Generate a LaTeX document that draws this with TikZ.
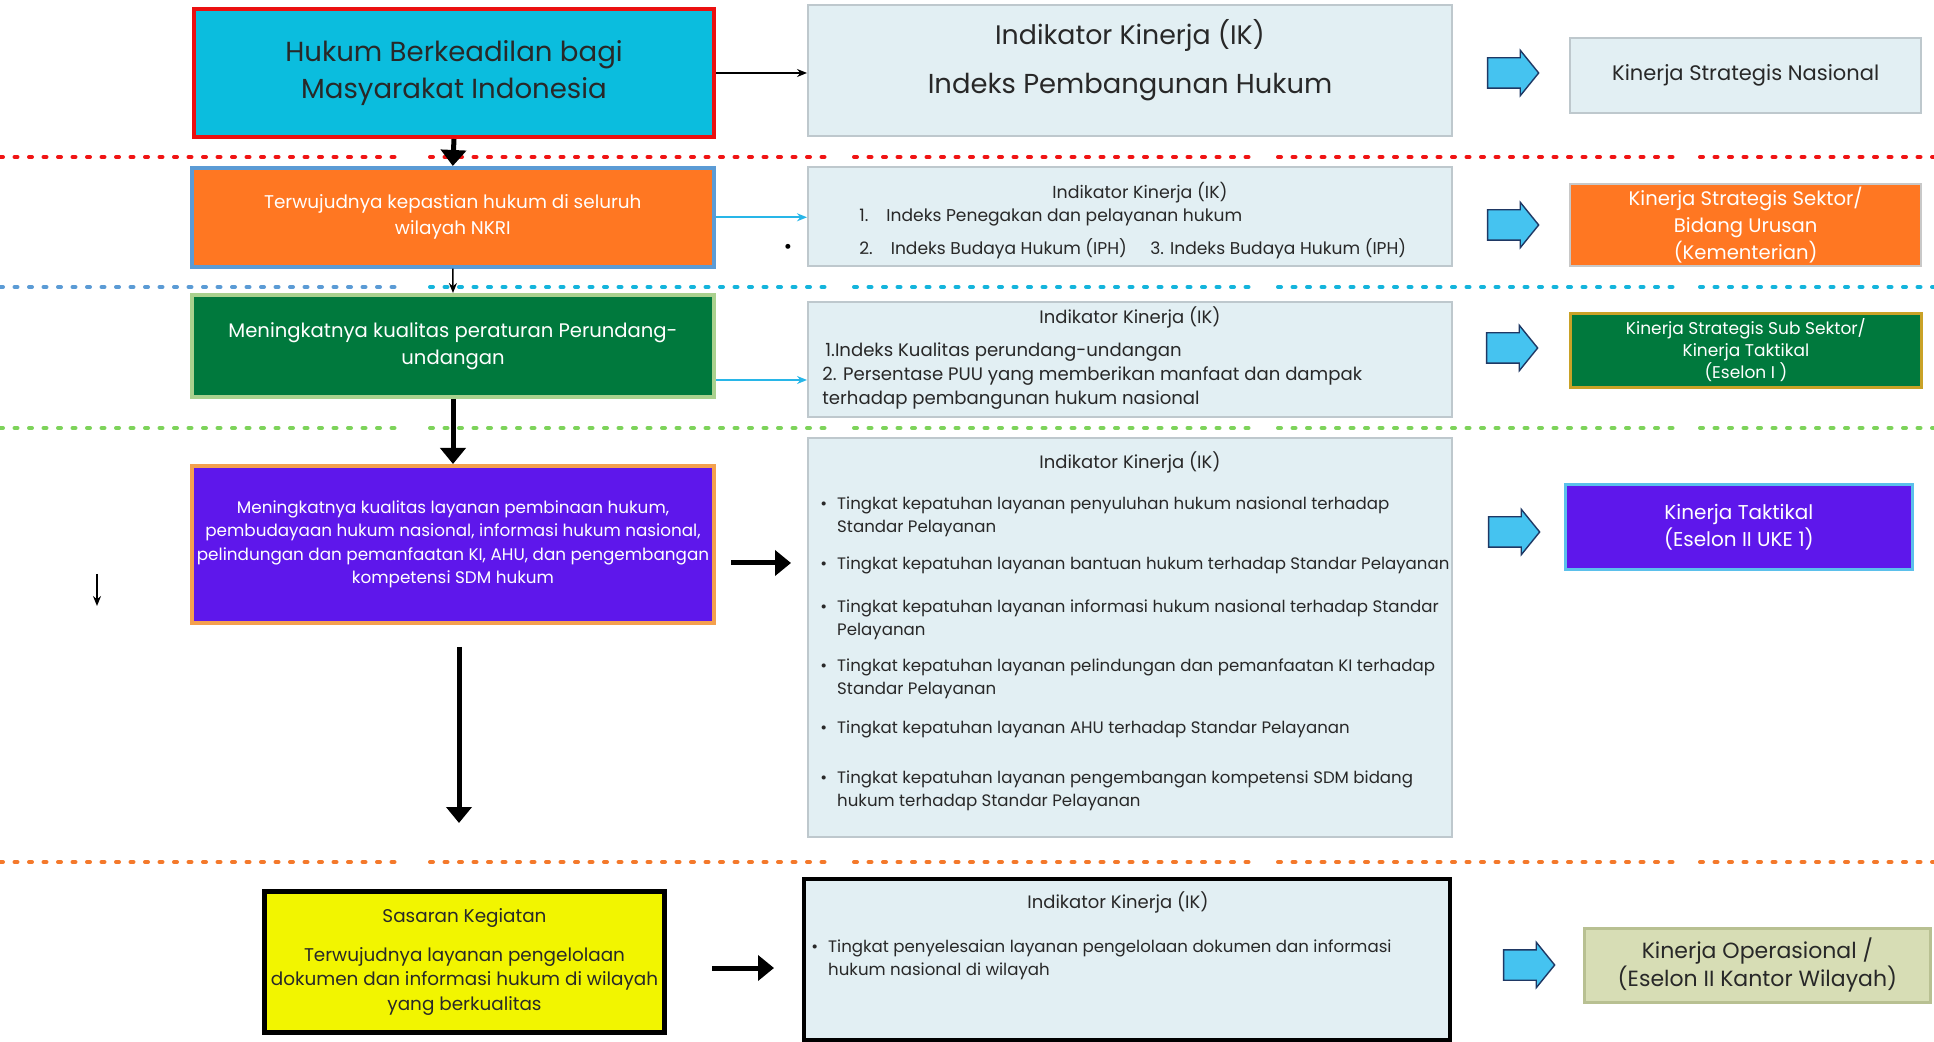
\documentclass[tikz,border=0pt]{standalone}
\usepackage{fontspec}
\setmainfont{Poppins}
\usetikzlibrary{positioning,calc,arrows.meta,shapes.arrows}

\definecolor{hukumcyan}{RGB}{11,189,222}
\definecolor{hukumred}{RGB}{235,16,16}
\definecolor{ikfill}{RGB}{226,239,243}
\definecolor{ikline}{RGB}{190,200,205}
\definecolor{oranye}{RGB}{255,119,34}
\definecolor{birubox}{RGB}{91,155,213}
\definecolor{hijau}{RGB}{0,121,61}
\definecolor{hijaumuda}{RGB}{169,209,142}
\definecolor{ungu}{RGB}{94,23,235}
\definecolor{oranyemuda}{RGB}{244,160,78}
\definecolor{birumuda}{RGB}{91,192,235}
\definecolor{emas}{RGB}{201,162,39}
\definecolor{abu}{RGB}{200,200,200}
\definecolor{kuning}{RGB}{242,245,0}
\definecolor{zaitun}{RGB}{215,221,181}
\definecolor{zaitunline}{RGB}{184,192,146}
\definecolor{panah}{RGB}{69,195,240}
\definecolor{panahline}{RGB}{31,56,100}
\definecolor{panahtosca}{RGB}{40,182,232}
\definecolor{teks}{RGB}{40,40,40}
\definecolor{garismerah}{RGB}{240,20,20}
\definecolor{garisbiru}{RGB}{91,155,213}
\definecolor{garistosca}{RGB}{20,180,220}
\definecolor{garishijau}{RGB}{125,211,90}
\definecolor{garisoranye}{RGB}{244,121,43}

\tikzset{
  wh/.style 2 args={minimum width=#1*0.5pt, minimum height=#2*0.5pt},
  box/.style={draw, rectangle, anchor=north west, inner sep=0pt, align=center},
  ikbox/.style={box, fill=ikfill, draw=ikline, line width=1.2pt},
  iktext/.style={text=teks, font=\fontsize{8.3}{11.5}\selectfont, inner sep=0pt, align=left},
  blockarrow/.style={single arrow, draw=panahline, fill=panah, line width=0.7pt,
    minimum height=25.5pt, minimum width=22pt, single arrow head extend=3.75pt,
    single arrow tip angle=102, inner xsep=0pt, inner ysep=7.25pt},
  dotline/.style={line width=2pt, dash pattern=on 1.5pt off 5.75pt, line cap=round},
  fatarrow/.style={line width=2.5pt, -{Triangle[length=8pt, width=12.5pt]}},
  thinarrow/.style={line width=0.7pt, -{Stealth[length=5pt, width=4pt]}},
  cyanarrow/.style={line width=0.9pt, panahtosca, -{Stealth[length=5pt, width=4pt]}},
}

\begin{document}
\begin{tikzpicture}[x=0.5pt, y=-0.5pt]
\useasboundingbox (0,0) rectangle (1934,1042);

% garis pemisah
\draw[dotline, garismerah] (0,157) -- (401,157) (430,157) -- (828,157) (854,157) -- (1249,157) (1278,157) -- (1674,157) (1700,157) -- (1934,157);
\draw[dotline, garisbiru] (0,287) -- (401,287);
\draw[dotline, garistosca] (430,287) -- (828,287) (854,287) -- (1249,287) (1278,287) -- (1674,287) (1700,287) -- (1934,287);
\draw[dotline, garishijau] (0,428) -- (401,428) (430,428) -- (828,428) (854,428) -- (1249,428) (1278,428) -- (1674,428) (1700,428) -- (1934,428);
\draw[dotline, garisoranye] (0,862) -- (401,862) (430,862) -- (828,862) (854,862) -- (1249,862) (1278,862) -- (1674,862) (1700,862) -- (1934,862);

% tingkat nasional
\node[box, wh={520}{128}, fill=hukumcyan, draw=hukumred, line width=2pt, text=teks, font=\fontsize{13.8}{18.5}\selectfont] (hukum) at (192,7) {Hukum Berkeadilan bagi\\Masyarakat Indonesia};
\node[ikbox, wh={644}{131}] (ik0) at (807,4) {};
\node[text=teks, font=\fontsize{13.4}{15}\selectfont] (ik0a) at (1130,35) {Indikator Kinerja (IK)};
\node[text=teks, font=\fontsize{13.7}{16}\selectfont] (ik0b) at (1130,87) {Indeks Pembangunan Hukum};
\node[blockarrow] (ba0) at (1507,73) {};
\node[box, wh={351}{75}, fill=ikfill, draw=ikline, line width=1.2pt, text=teks, font=\fontsize{10.5}{13}\selectfont] (nasional) at (1569,37) {Kinerja Strategis Nasional};

\draw[thinarrow] (hukum.east) -- (hukum.east -| ik0.west);

% tingkat kementerian
\node[box, wh={522}{99}, fill=oranye, draw=birubox, line width=1.8pt, text=white, font=\fontsize{9.2}{13}\selectfont] (kepastian) at (190,166) {Terwujudnya kepastian hukum di seluruh\\wilayah NKRI};
\node[ikbox, wh={644}{99}] (ik1) at (807,166) {};
\node[iktext, font=\fontsize{8.7}{11}\selectfont] (ik1a) at (1140,193) {Indikator Kinerja (IK)};
\node[iktext, anchor=west, font=\fontsize{8.55}{11}\selectfont] (ik1b) at (859,217) {1.\hspace{9pt}Indeks Penegakan dan pelayanan hukum};
\node[iktext, anchor=west, font=\fontsize{8.55}{11}\selectfont] (ik1c) at (859,249) {2.\hspace{9pt}Indeks Budaya Hukum (IPH)};
\node[iktext, anchor=west, font=\fontsize{8.55}{11}\selectfont] (ik1d) at (1150,249) {3. Indeks Budaya Hukum (IPH)};
\node[text=black, font=\fontsize{10}{11}\selectfont, inner sep=0pt] (titik) at (788,249) {\textbullet};
\node[blockarrow] (ba1) at (1507,225) {};
\node[box, wh={351}{82}, fill=oranye, draw=abu, line width=1.2pt, text=white, font=\fontsize{9.8}{13.5}\selectfont] (sektor) at (1569,183) {Kinerja Strategis Sektor/\\Bidang Urusan\\(Kementerian)};

\draw[fatarrow] (hukum.south) -- (kepastian.north);
\draw[cyanarrow] (kepastian.east) -- (kepastian.east -| ik1.west);

% tingkat eselon I
\node[box, wh={522}{102}, fill=hijau, draw=hijaumuda, line width=2pt, text=white, font=\fontsize{9.8}{13.5}\selectfont] (peraturan) at (190,293) {Meningkatnya kualitas peraturan Perundang-\\undangan};
\node[ikbox, wh={644}{115}] (ik2) at (807,301) {};
\node[iktext, font=\fontsize{9}{11}\selectfont] (ik2a) at (1130,317) {Indikator Kinerja (IK)};
\node[iktext, anchor=west, font=\fontsize{9.05}{12}\selectfont] (ik2b) at (822,376) {\hspace{1.5pt}1.Indeks Kualitas perundang-undangan\\2. Persentase PUU yang memberikan manfaat dan dampak\\terhadap pembangunan hukum nasional};
\node[blockarrow] (ba2) at (1506,348) {};
\node[box, wh={351}{74}, fill=hijau, draw=emas, line width=1.4pt, text=white, font=\fontsize{8.5}{11}\selectfont] (subsektor) at (1569,312) {Kinerja Strategis Sub Sektor/\\Kinerja Taktikal\\(Eselon I )};

\draw[thinarrow] (kepastian.south) -- (peraturan.north);
\draw[cyanarrow] ($(peraturan.south east)+(0,-19)$) -- ($(peraturan.south east -| ik2.west)+(0,-19)$);

% tingkat eselon II
\node[box, wh={522}{157}, fill=ungu, draw=oranyemuda, line width=2pt, text=white, font=\fontsize{8.4}{11.75}\selectfont] (layanan) at (190,464) {Meningkatnya kualitas layanan pembinaan hukum,\\pembudayaan hukum nasional, informasi hukum nasional,\\pelindungan dan pemanfaatan KI, AHU, dan pengembangan\\kompetensi SDM hukum};
\node[ikbox, wh={644}{399}] (ik3) at (807,437) {};
\node[iktext, font=\fontsize{9}{11}\selectfont] (ik3a) at (1130,462) {Indikator Kinerja (IK)};
\node[iktext, anchor=west] (ik3b) at (820,517) {\textbullet\hspace{5pt}Tingkat kepatuhan layanan penyuluhan hukum nasional terhadap\\\hphantom{\textbullet\hspace{5pt}}Standar Pelayanan};
\node[iktext, anchor=west] (ik3c) at (820,565) {\textbullet\hspace{5pt}Tingkat kepatuhan layanan bantuan hukum terhadap Standar Pelayanan};
\node[iktext, anchor=west] (ik3d) at (820,620) {\textbullet\hspace{5pt}Tingkat kepatuhan layanan informasi hukum nasional terhadap Standar\\\hphantom{\textbullet\hspace{5pt}}Pelayanan};
\node[iktext, anchor=west] (ik3e) at (820,679) {\textbullet\hspace{5pt}Tingkat kepatuhan layanan pelindungan dan pemanfaatan KI terhadap\\\hphantom{\textbullet\hspace{5pt}}Standar Pelayanan};
\node[iktext, anchor=west] (ik3f) at (820,729) {\textbullet\hspace{5pt}Tingkat kepatuhan layanan AHU terhadap Standar Pelayanan};
\node[iktext, anchor=west] (ik3g) at (820,791) {\textbullet\hspace{5pt}Tingkat kepatuhan layanan pengembangan kompetensi SDM bidang\\\hphantom{\textbullet\hspace{5pt}}hukum terhadap Standar Pelayanan};
\node[blockarrow] (ba3) at (1508,532) {};
\node[box, wh={347}{85}, fill=ungu, draw=birumuda, line width=1.4pt, text=white, font=\fontsize{10}{13.5}\selectfont] (taktikal) at (1564,483) {Kinerja Taktikal\\(Eselon II UKE 1)};

\draw[fatarrow] (peraturan.south) -- (peraturan.south |- layanan.north);
\coordinate (kiri1) at (97,574);
\coordinate (kiri2) at (97,606);
\draw[thinarrow] (kiri1) -- (kiri2);
\coordinate (kanan1) at (731,563);
\coordinate (kanan2) at (791,563);
\draw[fatarrow] (kanan1) -- (kanan2);
\coordinate (turun1) at (459,647);
\coordinate (turun2) at (459,823);
\draw[fatarrow] (turun1) -- (turun2);

% tingkat kantor wilayah
\node[box, wh={400}{141}, fill=kuning, draw=black, line width=2.5pt, text=teks, font=\fontsize{9.2}{12.25}\selectfont] (kegiatan) at (262,889) {Sasaran Kegiatan\\[7pt]Terwujudnya layanan pengelolaan\\dokumen dan informasi hukum di wilayah\\yang berkualitas};
\node[ikbox, draw=black, line width=2pt, wh={646}{161}] (ik4) at (802,877) {};
\node[iktext, font=\fontsize{9}{11}\selectfont] (ik4a) at (1118,902) {Indikator Kinerja (IK)};
\node[iktext, anchor=west, font=\fontsize{8.3}{11.5}\selectfont] (ik4b) at (811,960) {\textbullet\hspace{5pt}Tingkat penyelesaian layanan pengelolaan dokumen dan informasi\\\hphantom{\textbullet\hspace{5pt}}hukum nasional di wilayah};
\node[blockarrow] (ba4) at (1523,965) {};
\node[box, wh={346}{74}, fill=zaitun, draw=zaitunline, line width=1.4pt, text=teks, font=\fontsize{11}{14}\selectfont] (operasional) at (1583,927) {Kinerja Operasional /\\(Eselon II Kantor Wilayah)};

\coordinate (bawah1) at (712,968);
\coordinate (bawah2) at (774,968);
\draw[fatarrow] (bawah1) -- (bawah2);
\end{tikzpicture}
\end{document}
